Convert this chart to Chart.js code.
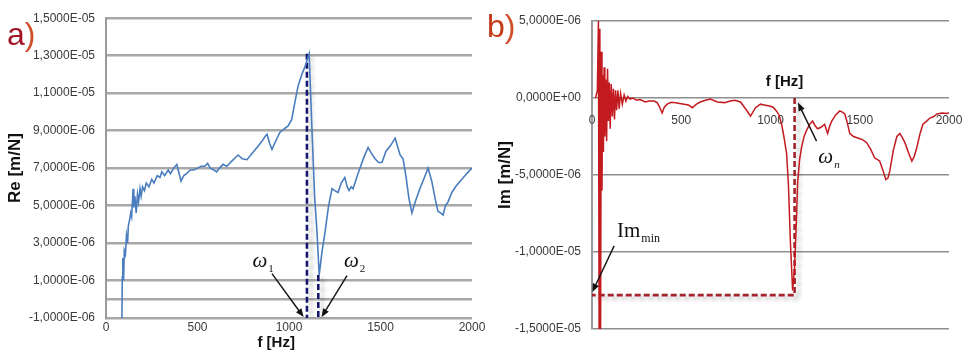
<!DOCTYPE html>
<html lang="en">
<head>
    <meta charset="UTF-8">
    <title>Re / Im</title>
    <script src="https://cdn.jsdelivr.net/npm/chart.js@4.4.1/dist/chart.umd.min.js"></script>
    <style>
        body { margin: 0; background: #fff; }
        #wrap { position: relative; width: 966px; height: 357px; overflow: hidden; }
        canvas { position: absolute; top: 0; }
        #re { left: 0; }
        #im { left: 483px; }
    </style>
</head>
<body>
<div id="wrap">
    <canvas id="re" width="490" height="357"></canvas>
    <canvas id="im" width="483" height="357"></canvas>
</div>

<script>
    // a) real part, values in 1E-06 m/N
    const freqA = [87, 89, 92, 96, 100, 106, 112, 118, 122, 128, 135, 140, 145, 148, 152, 158, 165, 172, 178, 186, 192, 200, 210, 220, 235, 250, 262, 280, 295, 305, 320, 340, 352, 370, 387, 400, 410, 425, 440, 460, 480, 500, 520, 540, 555, 570, 590, 605, 620, 640, 660, 690, 722, 745, 770, 800, 825, 850, 870, 880, 895, 907, 930, 950, 975, 995, 1015, 1030, 1050, 1070, 1087, 1110, 1126, 1140, 1153, 1165, 1180, 1197, 1215, 1235, 1250, 1268, 1285, 1305, 1318, 1328, 1340, 1350, 1370, 1388, 1410, 1432, 1450, 1470, 1490, 1508, 1530, 1555, 1580, 1595, 1607, 1623, 1640, 1655, 1672, 1690, 1715, 1740, 1760, 1780, 1800, 1814, 1830, 1842, 1855, 1869, 1890, 1910, 1935, 1962, 1980, 2000];
    const reA = [-1.2, 1.2, 2.2, 1.0, 2.6, 2.4, 3.4, 3.0, 3.9, 4.2, 4.6, 4.4, 5.3, 5.9, 4.9, 5.5, 4.6, 5.6, 5.2, 5.9, 5.5, 6.0, 5.8, 6.2, 6.0, 6.4, 6.2, 6.6, 6.5, 6.8, 6.6, 6.9, 6.7, 7.0, 7.2, 6.7, 6.3, 6.6, 6.7, 6.9, 6.9, 7.0, 7.1, 7.1, 7.25, 7.0, 6.9, 6.8, 7.0, 7.2, 7.1, 7.4, 7.7, 7.5, 7.45, 7.8, 8.1, 8.4, 8.7, 8.8, 8.3, 8.0, 8.5, 8.9, 9.1, 9.25, 9.6, 10.4, 11.4, 12.0, 12.4, 13.1, 8.9, 5.5, 3.6, 1.3, 2.5, 3.6, 4.9, 5.9, 5.8, 5.7, 6.2, 6.5, 6.0, 5.8, 6.0, 5.9, 6.5, 7.0, 7.6, 8.1, 7.8, 7.5, 7.3, 7.3, 7.9, 8.2, 8.6, 8.1, 7.7, 7.5, 6.5, 5.4, 4.6, 5.2, 5.9, 6.5, 7.0, 6.3, 5.3, 4.7, 4.6, 4.5, 5.0, 5.2, 5.7, 6.0, 6.3, 6.6, 6.8, 7.0];
    const yTicksA = [-1, 0, 1, 3, 5, 7, 9, 11, 13, 15];
    const omega1 = [[1098, 13.1], [1098, -1]];
    const omega2 = [[1160, 1.3], [1160, -1]];

    // b) imaginary part, values in 1E-06 m/N
    const freqB = [20, 30, 36, 40, 44, 48, 52, 56, 60, 64, 68, 72, 77, 82, 87, 92, 97, 102, 108, 114, 120, 126, 132, 138, 145, 152, 160, 170, 180, 190, 200, 213, 230, 250, 270, 298, 320, 348, 365, 376, 393, 405, 421, 440, 460, 490, 517, 540, 562, 585, 607, 635, 663, 702, 742, 775, 800, 832, 860, 888, 916, 944, 965, 994, 1015, 1033, 1048, 1062, 1075, 1090, 1100, 1112, 1124, 1135, 1145, 1152, 1163, 1174, 1188, 1202, 1220, 1236, 1250, 1264, 1283, 1303, 1320, 1332, 1343, 1365, 1388, 1400, 1416, 1430, 1444, 1465, 1489, 1515, 1539, 1560, 1584, 1600, 1612, 1630, 1646, 1658, 1669, 1688, 1708, 1725, 1740, 1753, 1775, 1792, 1805, 1820, 1838, 1854, 1875, 1893, 1915, 1933, 1961, 1989, 2000];
    const imB = [0.0, 0.5, 5.0, -16, 4.5, -16, 3.0, -6, 1.5, -3.5, 2.0, -2.5, 1.2, -2.8, 1.9, -1.5, 1.0, -2.0, 0.9, -1.2, 0.6, -1.4, 0.5, -0.8, 0.5, -0.7, 0.3, -0.4, 0.2, -0.2, 0.1, -0.07, 0.0, -0.15, -0.1, -0.26, -0.2, -0.2, -0.3, -0.52, -0.97, -0.6, -0.4, -0.3, -0.3, -0.35, -0.4, -0.45, -0.63, -0.4, -0.26, -0.15, -0.07, -0.26, -0.3, -0.2, -0.15, -0.26, -0.7, -1.17, -0.63, -0.4, -0.45, -0.52, -0.6, -0.84, -1.1, -1.7, -2.5, -3.6, -5.5, -9.5, -12.5, -11, -8, -5.5, -4.0, -3.2, -2.5, -2.1, -1.7, -1.5, -1.8, -2.0, -1.9, -1.7, -2.3, -1.8, -1.5, -1.1, -0.84, -0.9, -1.04, -1.6, -2.3, -2.5, -2.6, -2.7, -2.9, -3.3, -3.9, -4.0, -4.1, -4.7, -5.3, -5.2, -4.7, -3.4, -2.5, -2.3, -2.6, -2.9, -3.6, -4.1, -3.8, -3.2, -2.3, -1.7, -1.5, -1.3, -1.2, -1.04, -0.97, -1.0, -0.95];
    const yTicksB = [-15, -10, -5, 0, 5];
    const imMin = [[1135, 0], [1135, -12.8], [0, -12.8]];

    const xTicks = [0, 500, 1000, 1500, 2000];

    const SANS = "'Liberation Sans', Arial, sans-serif";
    const SERIF = "'Liberation Serif', 'DejaVu Serif', serif";

    const pts = (xs, ys) => xs.map((x, i) => ({x: x, y: ys[i] * 1e-6}));
    const pairs = arr => arr.map(p => ({x: p[0], y: p[1] * 1e-6}));

    function sci(v) {
        if (Math.abs(v) < 1e-12) return '0,0000E+00';
        let [m, e] = v.toExponential(4).split('e');
        const sign = e[0] === '-' ? '-' : '+';
        e = e.replace(/[+-]/, '');
        return m.replace('.', ',') + 'E' + sign + e.padStart(2, '0');
    }

    function arrow(ctx, x0, y0, x1, y1) {
        const a = Math.atan2(y1 - y0, x1 - x0);
        const h = 9;
        ctx.save();
        ctx.strokeStyle = '#111';
        ctx.fillStyle = '#111';
        ctx.lineWidth = 1.4;
        ctx.beginPath();
        ctx.moveTo(x0, y0);
        ctx.lineTo(x1 - Math.cos(a) * h * 0.8, y1 - Math.sin(a) * h * 0.8);
        ctx.stroke();
        ctx.beginPath();
        ctx.moveTo(x1, y1);
        ctx.lineTo(x1 - h * Math.cos(a - 0.38), y1 - h * Math.sin(a - 0.38));
        ctx.lineTo(x1 - h * Math.cos(a + 0.38), y1 - h * Math.sin(a + 0.38));
        ctx.closePath();
        ctx.fill();
        ctx.restore();
    }

    // text, arrows and panel letters on top of the chart
    const notes = {
        id: 'notes',
        afterDraw(chart, args, opts) {
            const ctx = chart.ctx;
            const sx = chart.scales.x, sy = chart.scales.y;
            const px = p => [sx.getPixelForValue(p[0]), sy.getPixelForValue(p[1] * 1e-6)];
            (opts.arrows || []).forEach(a => {
                const f = px(a[0]), t = px(a[1]);
                arrow(ctx, f[0], f[1], t[0], t[1]);
            });
            (opts.labels || []).forEach(l => {
                const p = px(l.at);
                ctx.save();
                ctx.fillStyle = '#111';
                ctx.font = l.font;
                ctx.textAlign = l.align || 'left';
                ctx.textBaseline = 'alphabetic';
                ctx.fillText(l.text, p[0], p[1]);
                if (l.sub) {
                    const w = ctx.measureText(l.text).width;
                    const x = l.align === 'center' ? p[0] + w / 2 : p[0] + w;
                    ctx.font = l.subFont;
                    ctx.textAlign = 'left';
                    ctx.fillText(l.sub, x + 1, p[1] + 5);
                }
                ctx.restore();
            });
            (opts.tag || []).forEach(t => {
                ctx.save();
                ctx.font = '32px ' + SANS;
                ctx.textBaseline = 'alphabetic';
                ctx.fillStyle = t.c1;
                ctx.fillText(t.letter, t.x, t.y);
                const w = ctx.measureText(t.letter).width;
                ctx.fillStyle = t.c2;
                ctx.fillText(')', t.x + w, t.y);
                ctx.restore();
            });
        }
    };

    const shadow = {
        id: 'shadow',
        beforeDatasetDraw(chart, args) {
            if (!args.meta._dataset.shadow) return;
            const ctx = chart.ctx;
            ctx.save();
            ctx.shadowColor = 'rgba(0,0,0,0.28)';
            ctx.shadowBlur = 4;
            ctx.shadowOffsetX = 4;
            ctx.shadowOffsetY = 3;
        },
        afterDatasetDraw(chart, args) {
            if (args.meta._dataset.shadow) chart.ctx.restore();
        }
    };

    function xAxis(extra) {
        return Object.assign({
            type: 'linear',
            min: 0,
            max: 2000,
            afterBuildTicks: s => { s.ticks = xTicks.map(v => ({value: v})); },
            grid: { display: false, drawTicks: false },
            border: { display: false },
            ticks: { maxRotation: 0, color: '#3a3a3a', font: { family: SANS, size: 12 }, callback: v => String(v) }
        }, extra);
    }

    function baseOptions(yMin, yMax, yTicks, yTitle, titlePad, axisWidth, hideZero, gridColor, gridWidth) {
        return {
            responsive: false,
            animation: false,
            devicePixelRatio: 1,
            plugins: { legend: { display: false }, tooltip: { enabled: false } },
            scales: {
                y: {
                    type: 'linear',
                    min: yMin,
                    max: yMax,
                    afterBuildTicks: s => { s.ticks = yTicks.map(v => ({value: v * 1e-6})); },
                    afterFit: s => { s.width = axisWidth; },
                    grid: { color: gridColor, lineWidth: gridWidth, drawTicks: false },
                    border: { display: true, width: 2, color: '#9a9a9a' },
                    ticks: {
                        padding: 11,
                        color: '#3a3a3a',
                        font: { family: SANS, size: 12 },
                        callback: v => (hideZero && Math.abs(v) < 1e-12) ? '' : sci(v)
                    },
                    title: {
                        display: true,
                        text: yTitle,
                        color: '#111',
                        font: { family: SANS, size: 17, weight: 'bold' },
                        padding: { top: titlePad, bottom: 0 }
                    }
                }
            }
        };
    }

    // ---- a) Re ----
    const optA = baseOptions(-1e-6, 1.5e-5, yTicksA, 'Re [m/N]', 5, 106, true, '#a8a8a8', 2.5);
    optA.layout = { padding: { left: 0, right: 18, top: 14, bottom: 0 } };
    optA.scales.x = xAxis({
        afterFit: s => { s.height = 39; s.paddingLeft = 0; s.paddingRight = 0; }
    });
    optA.scales.x.ticks.padding = 2;
    optA.plugins.notes = {
        arrows: [[[907, 1.37], [1080, -0.95]], [[1317, 1.26], [1178, -0.95]]],
        labels: [
            { at: [800, 1.7], text: 'ω', sub: '1', font: 'italic 21px ' + SERIF, subFont: '11px ' + SERIF },
            { at: [1300, 1.7], text: 'ω', sub: '2', font: 'italic 21px ' + SERIF, subFont: '11px ' + SERIF },
            { at: [930, -2.55], text: 'f [Hz]', align: 'center', font: 'bold 15px ' + SANS }
        ],
        tag: [{ letter: 'a', x: 7, y: 45, c1: '#a3162a', c2: '#d0502c' }]
    };

    new Chart(document.getElementById('re').getContext('2d'), {
        type: 'line',
        data: {
            datasets: [
                { data: pts(freqA, reA), borderColor: '#4a7dbd', borderWidth: 1.6, pointRadius: 0 },
                { data: pairs(omega1), borderColor: '#16166e', borderWidth: 2.6, borderDash: [6, 3], pointRadius: 0, shadow: true },
                { data: pairs(omega2), borderColor: '#16166e', borderWidth: 2.6, borderDash: [6, 3], pointRadius: 0, shadow: true }
            ]
        },
        options: optA,
        plugins: [shadow, notes]
    });

    // ---- b) Im ----
    const optB = baseOptions(-1.5e-5, 5e-6, yTicksB, 'Im [m/N]', 12, 109, false, '#8e8e8e', 1.6);
    optB.layout = { padding: { left: 0, right: 17, top: 21, bottom: 28 } };
    optB.scales.x = xAxis({
        position: { y: 0 },
        afterFit: s => { s.paddingLeft = 0; s.paddingRight = 0; }
    });
    optB.scales.x.ticks.padding = 15;
    optB.plugins.notes = {
        arrows: [[[124, -9.6], [2, -12.6]], [[1258, -2.8], [1154, -0.3]]],
        labels: [
            { at: [140, -9.0], text: 'Im', sub: 'min', font: '21px ' + SERIF, subFont: '12px ' + SERIF },
            { at: [1268, -4.25], text: 'ω', sub: 'n', font: 'italic 21px ' + SERIF, subFont: 'italic 11px ' + SERIF },
            { at: [1079, 0.8], text: 'f [Hz]', align: 'center', font: 'bold 15px ' + SANS }
        ],
        tag: [{ letter: 'b', x: 4, y: 37, c1: '#c23a18', c2: '#d0502c' }]
    };

    new Chart(document.getElementById('im').getContext('2d'), {
        type: 'line',
        data: {
            datasets: [
                { data: pts(freqB, imB), borderColor: '#c21a1f', borderWidth: 1.5, pointRadius: 0 },
                { data: pairs(imMin), borderColor: '#a3222c', borderWidth: 2.6, borderDash: [6, 3], pointRadius: 0, shadow: true }
            ]
        },
        options: optB,
        plugins: [shadow, notes]
    });
</script>
</body>
</html>
